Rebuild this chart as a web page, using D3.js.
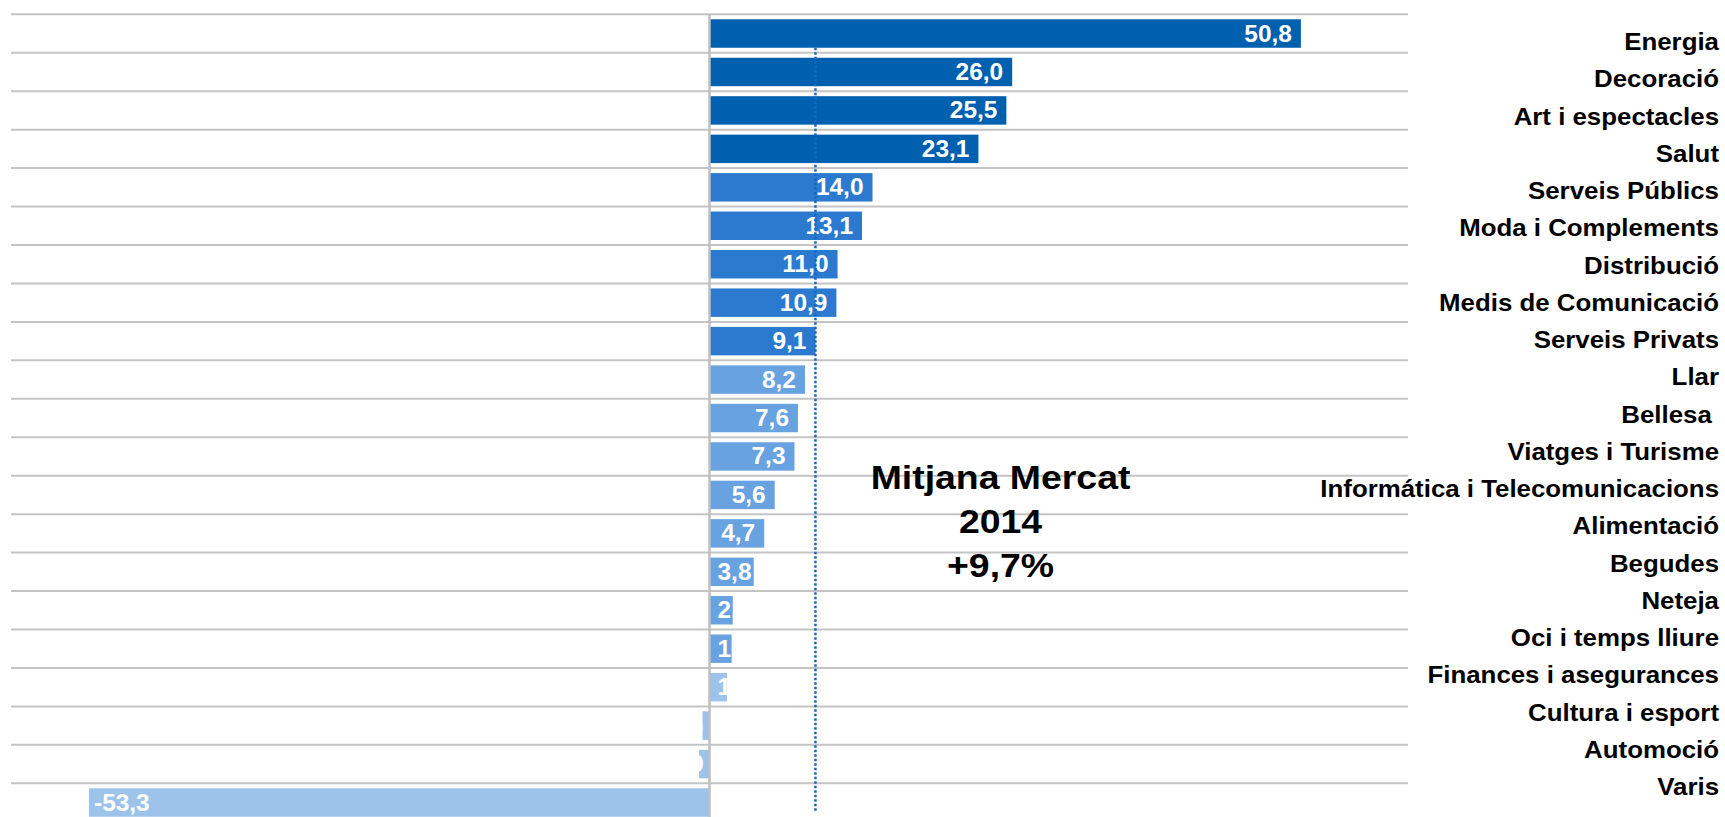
<!DOCTYPE html>
<html>
<head>
<meta charset="utf-8">
<script src="https://cdn.jsdelivr.net/npm/d3@7"></script>
<style>
  html, body { margin: 0; padding: 0; background: #ffffff; }
  svg { display: block; }
  text { font-family: "Liberation Sans", Arial, Helvetica, sans-serif; font-weight: bold; }
</style>
</head>
<body>
<div id="chart"></div>
<script>
// ---- Data ----
const categories = [
  "Energia", "Decoració", "Art i espectacles", "Salut", "Serveis Públics",
  "Moda i Complements", "Distribució", "Medis de Comunicació", "Serveis Privats",
  "Llar", "Bellesa ", "Viatges i Turisme", "Informática i Telecomunicacions",
  "Alimentació", "Begudes", "Neteja", "Oci i temps lliure",
  "Finances i asegurances", "Cultura i esport", "Automoció", "Varis"
];
const values = [
  50.8, 26.0, 25.5, 23.1, 14.0,
  13.1, 11.0, 10.9, 9.1,
  8.2, 7.6, 7.3, 5.6,
  4.7, 3.8, 2.0, 1.9,
  1.5, -0.6, -0.9, -53.3
];
const xDomain = [-60, 60];
const marketAverageLine = 9.1;
const annotationLines = ["Mitjana Mercat", "2014", "+9,7%"];
const colourThresholds = [1.8, 9, 20];
const colourTiers = ["#9DC3EB", "#68A2E0", "#2C7AD0", "#0060B0"];

// ---- Layout ----
const W = 1725, H = 817;
const svg = d3.select("#chart").append("svg").attr("width", W).attr("height", H);

const x = d3.scaleLinear().domain(xDomain).range([11, 1408]);
const y = d3.scaleBand().domain(categories).range([14.3, 821.75])
  .paddingInner(0.26).paddingOuter(0.13);
const labelY = d3.scalePoint().domain(categories).range([50, 795]);
const colour = d3.scaleThreshold().domain(colourThresholds).range(colourTiers);

const data = categories.map((c, i) => ({ c, v: values[i], i }));
const fmt = v => d3.format(".1f")(v).replace("\u2212", "-").replace(".", ",");
const gapHalf = (y.step() - y.bandwidth()) / 2;

// gridlines at category boundaries
svg.append("g").selectAll("line").data(categories).join("line")
  .attr("x1", x.range()[0]).attr("x2", x.range()[1])
  .attr("y1", d => y(d) - gapHalf).attr("y2", d => y(d) - gapHalf)
  .attr("stroke", "#c4c4c4").attr("stroke-width", 2);

// bars
svg.append("g").selectAll("rect").data(data).join("rect")
  .attr("x", d => Math.min(x(d.v), x(0)))
  .attr("width", d => Math.abs(x(d.v) - x(0)))
  .attr("y", d => y(d.c))
  .attr("height", y.bandwidth())
  .attr("fill", d => colour(d.v));

// clip paths for value labels (labels clipped to their bar)
const defs = svg.append("defs");
defs.selectAll("clipPath").data(data).join("clipPath")
  .attr("id", d => "clip" + d.i)
  .append("rect")
  .attr("x", d => Math.min(x(d.v), x(0)))
  .attr("width", d => Math.abs(x(d.v) - x(0)))
  .attr("y", d => y(d.c))
  .attr("height", y.bandwidth());

// value labels
const vsx = 1.04;
const vl = svg.append("g").selectAll("g").data(data).join("g")
  .attr("clip-path", d => `url(#clip${d.i})`);
vl.append("text")
  .text(d => fmt(d.v))
  .attr("font-size", 23.5)
  .attr("fill", "#ffffff")
  .each(function(d) {
    const w = this.getComputedTextLength() * vsx;
    const cy = y(d.c) + y.bandwidth() / 2 + 8;
    let tx, anchor;
    if (d.v >= 0) {
      const endX = x(d.v) - 9;
      if (endX - w < x(0) + 8) { tx = x(0) + 8; anchor = "start"; }
      else { tx = endX; anchor = "end"; }
    } else {
      const startX = x(d.v) + 5;
      if (startX + w > x(0) - 6) { tx = x(0) - 6; anchor = "end"; }
      else { tx = startX; anchor = "start"; }
    }
    d3.select(this).attr("text-anchor", anchor)
      .attr("transform", `translate(${tx},${cy}) scale(${vsx},1)`);
  });

// zero axis line
svg.append("line")
  .attr("x1", x(0)).attr("x2", x(0))
  .attr("y1", y.range()[0]).attr("y2", H)
  .attr("stroke", "#bfbfbf").attr("stroke-width", 2.5);

// market average dotted line
svg.append("line")
  .attr("x1", x(marketAverageLine)).attr("x2", x(marketAverageLine))
  .attr("y1", y(categories[0]) + y.bandwidth()).attr("y2", H - 5)
  .attr("stroke", "#1468C4").attr("stroke-width", 2.5)
  .attr("stroke-dasharray", "2.5,2");

// category labels (right column)
svg.append("g").selectAll("text").data(categories).join("text")
  .text(d => d)
  .attr("text-anchor", "end")
  .attr("font-size", 23.5)
  .attr("fill", "#000000")
  .style("white-space", "pre")
  .attr("transform", d => `translate(1719,${labelY(d)}) scale(1.1,1)`);

// annotation
svg.append("g").selectAll("text").data(annotationLines).join("text")
  .text(d => d)
  .attr("text-anchor", "middle")
  .attr("font-size", 34)
  .attr("fill", "#000000")
  .attr("transform", (d, i) => `translate(${x(25)},${489 + i * 44}) scale(1.1,1)`);
</script>
</body>
</html>
